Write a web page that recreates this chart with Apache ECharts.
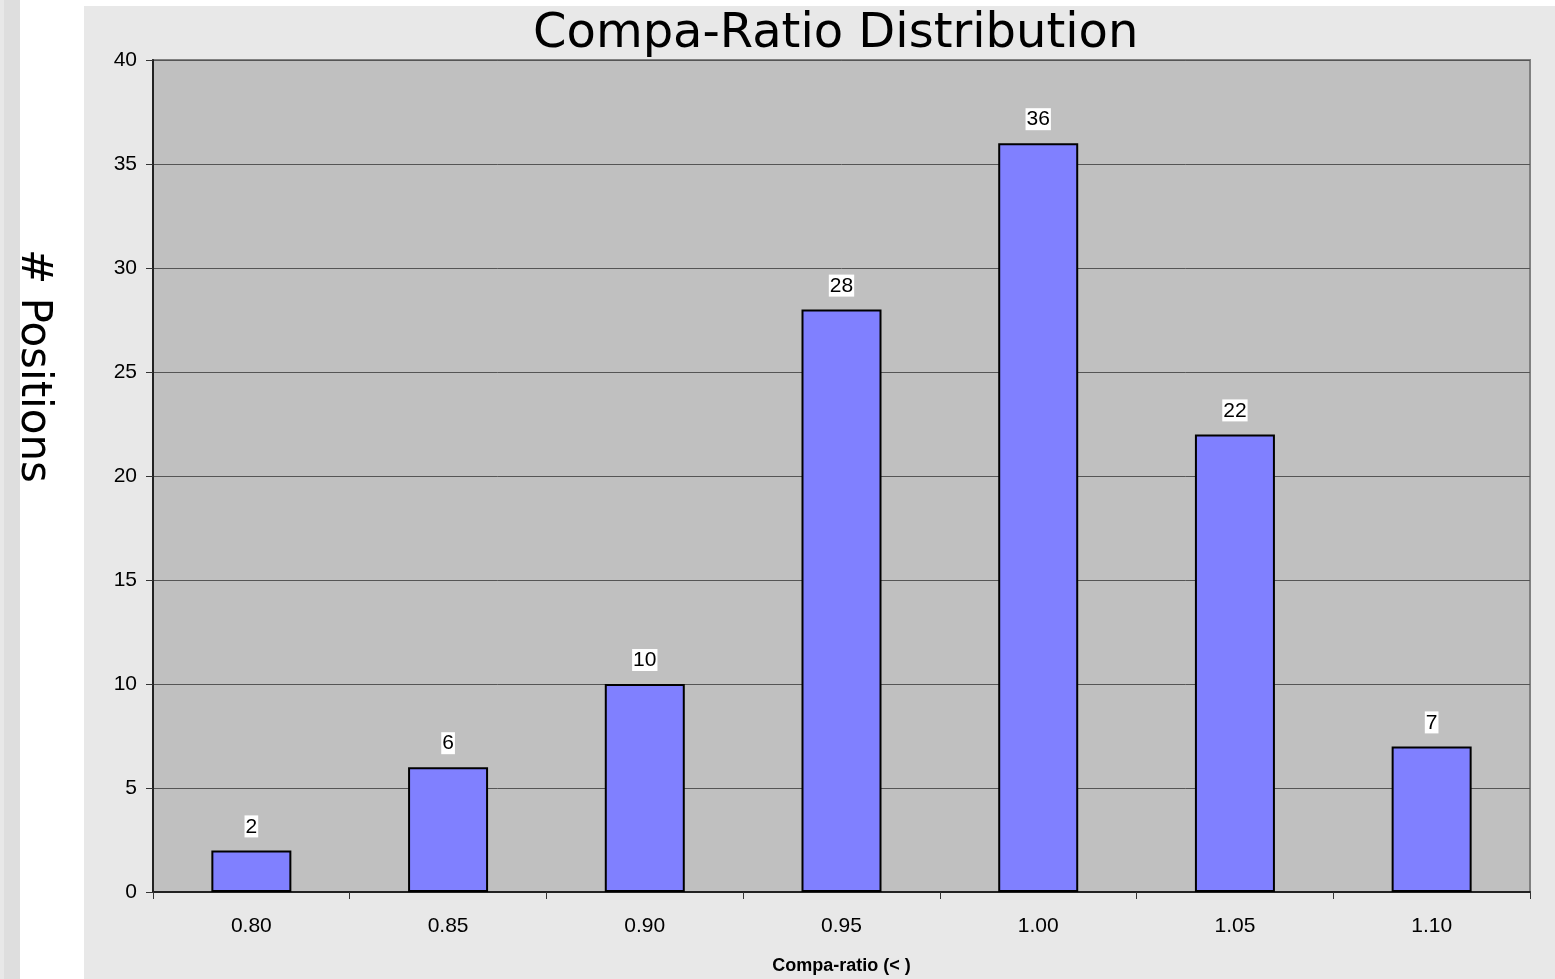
<!DOCTYPE html>
<html><head><meta charset="utf-8">
<script src="https://cdn.jsdelivr.net/npm/echarts@6/dist/echarts.min.js"></script>
<style>html,body{margin:0;padding:0;background:#fff}#c{width:1555px;height:979px}</style>
</head><body><div id="c"></div>
<script>
const categories = ['0.80','0.85','0.90','0.95','1.00','1.05','1.10'];
const counts = [2, 6, 10, 28, 36, 22, 7];
const titleText = 'Compa-Ratio Distribution';
const yName = '# Positions';
const xName = 'Compa-ratio (< )';

const chart = echarts.init(document.getElementById('c'), null, {renderer:'canvas'});
chart.setOption({
  animation: false,
  backgroundColor: '#ffffff',
  graphic: [
    {type:'rect', z:-10, silent:true, shape:{x:0,y:0,width:4,height:979}, style:{fill:'#e8e8e8'}},
    {type:'rect', z:-10, silent:true, shape:{x:4,y:0,width:16,height:979}, style:{fill:'#dedede'}},
    {type:'rect', z:-10, silent:true, shape:{x:84,y:6,width:1471,height:973}, style:{fill:'#e8e8e8'}},
    {type:'text', z:10, x:33, y:366, rotation:-Math.PI/2,
      style:{text:yName, fontFamily:'DejaVu Sans', fontSize:42, fill:'#000', textAlign:'center', textVerticalAlign:'middle'}}
  ],
  title: {
    text: titleText, left: 533, top: 11, padding: 0,
    textStyle: {fontFamily:'DejaVu Sans', fontSize:48, fontWeight:'normal', color:'#000'}
  },
  grid: {left:153, right:25, top:60, bottom:87, show:true, backgroundColor:'#c0c0c0', borderColor:'#808080', borderWidth:2, outerBoundsMode:'none', containLabel:false},
  xAxis: {
    type:'category', data: categories,
    name: xName, nameLocation:'middle', nameGap:65,
    nameTextStyle:{fontFamily:'Liberation Sans', fontSize:18, fontWeight:'bold', color:'#000'},
    axisLine:{show:true, lineStyle:{color:'#222', width:2}},
    axisTick:{show:true, length:7, lineStyle:{color:'#333', width:1}},
    axisLabel:{fontFamily:'Liberation Sans', fontSize:21, color:'#000', margin:24},
    splitLine:{show:false}
  },
  yAxis: {
    type:'value', min:0, max:40, interval:5,
    axisLine:{show:true, lineStyle:{color:'#222', width:2}},
    axisTick:{show:true, length:7, lineStyle:{color:'#333', width:1}},
    axisLabel:{fontFamily:'Liberation Sans', fontSize:21, color:'#000', margin:16},
    splitLine:{show:true, lineStyle:{color:'#555', width:1}}
  },
  series: [{
    type:'bar', data: counts, barWidth:80,
    itemStyle:{color:'#8080ff', borderColor:'#000', borderWidth:2},
    label:{show:true, position:'top', distance:13, fontFamily:'Liberation Sans', fontSize:21, color:'#000',
      backgroundColor:'#fff', padding:[1,1,0,1]}
  }]
});
</script></body></html>
